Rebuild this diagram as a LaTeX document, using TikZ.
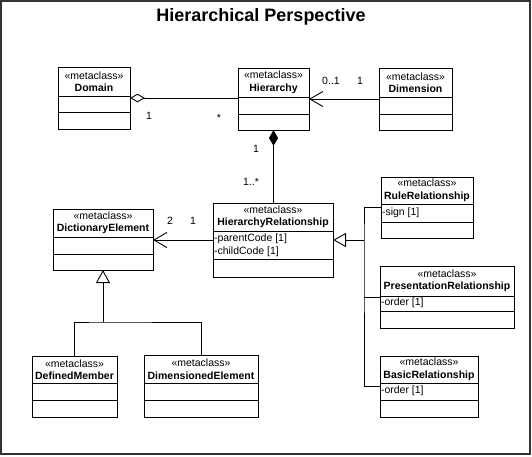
\documentclass[tikz,border=0pt]{standalone}
\usepackage{fontspec}
\setmainfont{Liberation Sans}
\usetikzlibrary{arrows.meta}

\tikzset{
  classbox/.style={draw, outer sep=0pt, inner sep=0pt},
  headtext/.style={align=center, inner sep=0pt, font=\fontsize{10.5}{12.5}\selectfont},
  attrtext/.style={anchor=west, inner sep=0.6pt, font=\fontsize{10.5}{12}\selectfont},
  mult/.style={inner sep=0pt, font=\fontsize{10.5}{12}\selectfont},
  titletext/.style={inner sep=0pt, font=\fontsize{18}{20}\selectfont\bfseries},
  frame/.style={draw=black!80, line width=2pt},
  aggr/.style={{Diamond[open,length=15pt,width=8.5pt]}-},
  compo/.style={{Diamond[length=16pt,width=9pt]}-},
  navarrow/.style={-{Straight Barb[length=13pt,width=15pt]}},
  genarrow/.style={-{Triangle[open,length=13pt,width=14pt]}}
}

% name, left, top, right, bottom, header line, separator line, title
\newcommand{\metaclassbox}[8]{%
  \node[classbox, minimum width={(#4-#2)*1pt}, minimum height={(#5-#3)*1pt}]
    (#1) at ({(#2+#4)/2},{(#3+#5)/2}) {};
  \draw (#2,#6) -- (#4,#6);
  \draw (#2,#7) -- (#4,#7);
  \node[headtext] (#1-head) at ({(#2+#4)/2},{(#3+#6)/2}) {«metaclass»\\\textbf{#8}};
}

\begin{document}
\begin{tikzpicture}[x=1pt, y=-1pt, line width=0.9pt]
  \useasboundingbox (0,0) rectangle (532,456);
  \draw[frame] (1,1) rectangle (530,454);
  \node[titletext] (title) at (261,17) {Hierarchical Perspective};

  \metaclassbox{domain}{58}{67}{130}{129}{96}{112}{Domain}
  \metaclassbox{hierarchy}{238}{68}{309}{130}{97}{114}{Hierarchy}
  \metaclassbox{dimension}{379}{68}{452}{130}{97}{114}{Dimension}
  \metaclassbox{hr}{213}{203}{333}{277}{231}{259}{HierarchyRelationship}
  \metaclassbox{dict}{53}{209}{153}{270}{237}{254}{DictionaryElement}
  \metaclassbox{defmember}{32}{356}{117}{417}{383}{400}{DefinedMember}
  \metaclassbox{dimelement}{144}{355}{258}{417}{383}{400}{DimensionedElement}
  \metaclassbox{rulerel}{381}{177}{473}{238}{204}{222}{RuleRelationship}
  \metaclassbox{presrel}{380}{266}{514}{328}{296}{311}{PresentationRelationship}
  \metaclassbox{basicrel}{380}{356}{478}{417}{383}{400}{BasicRelationship}

  % attributes
  \node[attrtext] (hr-parent) at (213,239) {-parentCode [1]};
  \node[attrtext] (hr-child) at (213,252) {-childCode [1]};
  \node[attrtext] (rulerel-sign) at (381,213) {-sign [1]};
  \node[attrtext] (presrel-order) at (380,303) {-order [1]};
  \node[attrtext] (basicrel-order) at (380,391) {-order [1]};

  % associations
  \draw[aggr] (domain.east) -- (domain.east -| hierarchy.west);
  \node[mult] (domain-m) at (149,116) {1};
  \node[mult] (hierarchy-m) at (219,118) {*};

  \draw[navarrow] (dimension.west) -- (dimension.west -| hierarchy.east);
  \node[mult] (hierarchy-dm) at (331,81) {0..1};
  \node[mult] (dimension-m) at (360,81) {1};

  \draw[compo] (hierarchy.south) -- (hierarchy.south |- hr.north);
  \node[mult] (hierarchy-cm) at (256,149) {1};
  \node[mult] (hr-cm) at (251,182) {1..*};

  \draw[navarrow] (hr.west) -- (hr.west -| dict.east);
  \node[mult] (dict-m) at (170,221) {2};
  \node[mult] (hr-m) at (193,221) {1};

  % generalizations
  \coordinate (dictjoin) at (103,322);
  \draw[genarrow] (dictjoin) -- (dict.south);
  \draw (defmember.north) |- (dictjoin) -| (dimelement.north);

  \coordinate (reljoin) at (364,240);
  \draw[genarrow] (reljoin) -- (hr.east);
  \draw (rulerel.west) -| (reljoin) |- (basicrel.west);
  \draw (presrel.west) -- (presrel.west -| reljoin);
\end{tikzpicture}
\end{document}
